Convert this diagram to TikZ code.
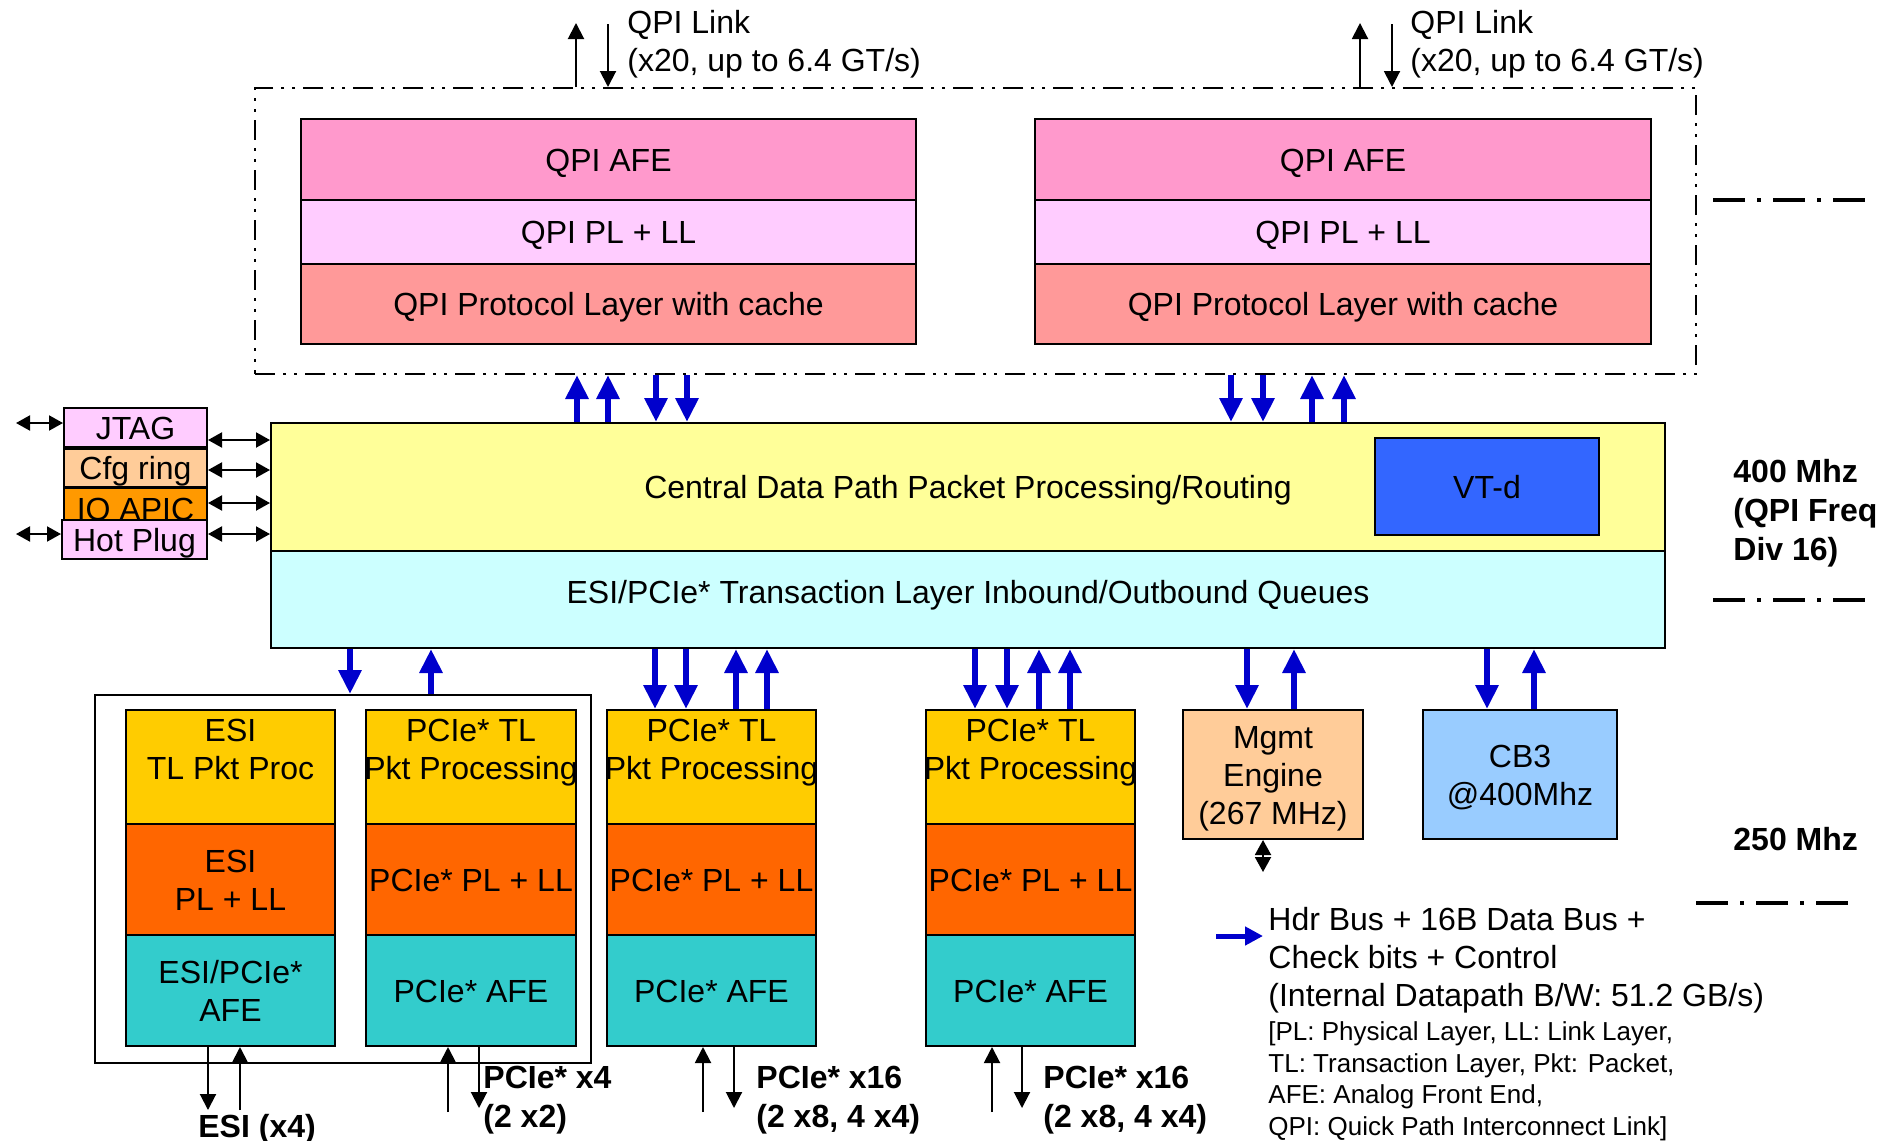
\documentclass[tikz,border=0pt]{standalone}
\usepackage{fontspec}
\setmainfont{Liberation Sans}
\usetikzlibrary{arrows.meta}
\definecolor{qafe}{HTML}{FF99CC}
\definecolor{qpl}{HTML}{FFCCFF}
\definecolor{qprot}{HTML}{FF9999}
\definecolor{cdpy}{HTML}{FFFF99}
\definecolor{cdpc}{HTML}{CCFFFF}
\definecolor{vtdc}{HTML}{3366FF}
\definecolor{cfgc}{HTML}{FFCC99}
\definecolor{ioc}{HTML}{FF9900}
\definecolor{tlc}{HTML}{FFCC00}
\definecolor{plc}{HTML}{FF6600}
\definecolor{afec}{HTML}{33CCCC}
\definecolor{cbc}{HTML}{99CCFF}
\definecolor{busblue}{HTML}{0000CC}
\newcommand\myfont{\fontsize{16}{19}\selectfont}
\newcommand\mybold{\fontsize{16}{19.5}\selectfont\bfseries}
\newcommand\mysmall{\fontsize{13}{15.75}\selectfont}
\newcommand\blk[8][]{\node[blk,#1,fill=#7,minimum width={(#5-#3)*0.5pt},minimum height={(#6-#4)*0.5pt}] (#2) at ({(#3+#5)/2},{(#4+#6)/2}) {#8};}
\begin{document}
\begin{tikzpicture}[x=0.5pt,y=-0.5pt,
  blk/.style={draw,line width=1pt,inner sep=0pt,align=center,font=\myfont,text height=11.5pt,text depth=0pt},
  two/.style={text height=30.5pt,text depth=0pt},
  three/.style={text height=49.5pt,text depth=0pt},
  top2/.style={text height=30.5pt,text depth=18pt},
  bus/.style={draw=busblue,line width=3pt,-{Triangle[length=12pt,width=11pt]}},
  sig/.style={line width=1pt,-{Triangle[length=8pt,width=8pt]}},
  dbl/.style={line width=1pt,{Triangle[length=7pt,width=7.5pt]}-{Triangle[length=7pt,width=7.5pt]}},
  mdbl/.style={line width=1pt,{Triangle[length=7.5pt,width=8pt]}-{Triangle[length=7.5pt,width=8pt]}},
  qdash/.style={draw,line width=1pt,dash pattern=on 10pt off 4pt on 1.5pt off 4pt on 1.5pt off 4pt},
  clk/.style={line width=1.6pt,dash pattern=on 16pt off 6pt on 2pt off 6pt},
  lbl/.style={inner sep=0pt,align=left,font=\myfont,text height=11.5pt,text depth=0pt},
  blbl/.style={lbl,font=\mybold}]
\useasboundingbox (0,0) rectangle (1888,1140);

% QPI region
\node[qdash,inner sep=0pt,minimum width={(1696-255)*0.5pt},minimum height={(374-88)*0.5pt}] (qpibox) at (975.5,231) {};
\blk{qafeA}{301}{119}{916}{200}{qafe}{QPI AFE}
\blk{qplA}{301}{200}{916}{264}{qpl}{QPI PL + LL}
\blk{qprA}{301}{264}{916}{344}{qprot}{QPI Protocol Layer with cache}
\blk{qafeB}{1035}{119}{1651}{200}{qafe}{QPI AFE}
\blk{qplB}{1035}{200}{1651}{264}{qpl}{QPI PL + LL}
\blk{qprB}{1035}{264}{1651}{344}{qprot}{QPI Protocol Layer with cache}

\coordinate (lkAup) at (576,23);
\coordinate (lkAdn) at (608,24);
\coordinate (lkBup) at (1360,23);
\coordinate (lkBdn) at (1392,24);
\draw[sig] (lkAup |- qpibox.north) -- (lkAup);
\draw[sig] (lkAdn) -- (lkAdn |- qpibox.north);
\draw[sig] (lkBup |- qpibox.north) -- (lkBup);
\draw[sig] (lkBdn) -- (lkBdn |- qpibox.north);
\node[lbl,text height=30.5pt,anchor=north west] (lkAtxt) at (627,10.5) {QPI Link\\(x20, up to 6.4 GT/s)};
\node[lbl,text height=30.5pt,anchor=north west] (lkBtxt) at (1410,10.5) {QPI Link\\(x20, up to 6.4 GT/s)};

% central data path
\blk{cdp}{271}{423}{1665}{551}{cdpy}{Central Data Path Packet Processing/Routing}
\blk{esq}{271}{551}{1665}{648}{cdpc}{}
\node[lbl,anchor=center] (esqtxt) at (968,592) {ESI/PCIe* Transaction Layer Inbound/Outbound Queues};
\blk{vtd}{1375}{438}{1599}{535}{vtdc}{VT-d}

\foreach \x in {577,608,1312,1344} \draw[bus] (\x,0 |- cdp.north) -- (\x,0 |- qpibox.south);
\foreach \x in {656,687,1231,1263} \draw[bus] (\x,0 |- qpibox.south) -- (\x,0 |- cdp.north);

% left side blocks
\blk{jtag}{64}{408}{207}{447}{qpl}{JTAG}
\blk{cfg}{64}{449}{207}{487}{cfgc}{Cfg ring}
\blk{ioapic}{64}{488}{207}{520}{ioc}{\raisebox{-2.5pt}{IO APIC}}
\blk{hotplug}{62}{520}{207}{559}{qpl}{Hot Plug}
\coordinate (jtagL) at (16,423);
\coordinate (hpL) at (16,534);
\draw[dbl] (jtagL) -- (jtagL -| jtag.west);
\draw[dbl] (hpL) -- (hpL -| hotplug.west);
\draw[dbl] (jtag.east |- 0,440) -- (cdp.west |- 0,440);
\draw[dbl] (cfg.east |- 0,470) -- (cdp.west |- 0,470);
\draw[dbl] (ioapic.east |- 0,503) -- (cdp.west |- 0,503);
\draw[dbl] (hotplug.east |- 0,534) -- (cdp.west |- 0,534);

% bottom blocks
\node[draw,line width=1pt,fill=white,inner sep=0pt,minimum width={(591-95)*0.5pt},minimum height={(1063-695)*0.5pt}] (esibox) at (343,879) {};
\blk[top2]{esitl}{126}{710}{335}{824}{tlc}{ESI\\TL Pkt Proc}
\blk[two]{esipl}{126}{824}{335}{935}{plc}{ESI\\PL + LL}
\blk[two]{esiafe}{126}{935}{335}{1046}{afec}{ESI/PCIe*\\AFE}

\blk[top2]{xAtl}{366}{710}{576}{824}{tlc}{PCIe* TL\\\makebox[0pt]{Pkt Processing}}
\blk{xApl}{366}{824}{576}{935}{plc}{PCIe* PL + LL}
\blk{xAafe}{366}{935}{576}{1046}{afec}{PCIe* AFE}

\blk[top2]{xBtl}{607}{710}{816}{824}{tlc}{PCIe* TL\\\makebox[0pt]{Pkt Processing}}
\blk{xBpl}{607}{824}{816}{935}{plc}{PCIe* PL + LL}
\blk{xBafe}{607}{935}{816}{1046}{afec}{PCIe* AFE}

\blk[top2]{xCtl}{926}{710}{1135}{824}{tlc}{PCIe* TL\\\makebox[0pt]{Pkt Processing}}
\blk{xCpl}{926}{824}{1135}{935}{plc}{PCIe* PL + LL}
\blk{xCafe}{926}{935}{1135}{1046}{afec}{PCIe* AFE}

\blk[three]{mgmt}{1183}{710}{1363}{839}{cfgc}{Mgmt\\Engine\\(267 MHz)}
\blk[two]{cb3}{1423}{710}{1617}{839}{cbc}{CB3\\@400Mhz}

% bus arrows to bottom blocks
\draw[bus] (350,0 |- esq.south) -- (350,0 |- esibox.north);
\draw[bus] (431,0 |- esibox.north) -- (431,0 |- esq.south);
\foreach \x in {655,686} \draw[bus] (\x,0 |- esq.south) -- (\x,0 |- xBtl.north);
\foreach \x in {736,767} \draw[bus] (\x,0 |- xBtl.north) -- (\x,0 |- esq.south);
\foreach \x in {975,1007} \draw[bus] (\x,0 |- esq.south) -- (\x,0 |- xCtl.north);
\foreach \x in {1039,1070} \draw[bus] (\x,0 |- xCtl.north) -- (\x,0 |- esq.south);
\draw[bus] (1247,0 |- esq.south) -- (1247,0 |- mgmt.north);
\draw[bus] (1294,0 |- mgmt.north) -- (1294,0 |- esq.south);
\draw[bus] (1487,0 |- esq.south) -- (1487,0 |- cb3.north);
\draw[bus] (1534,0 |- cb3.north) -- (1534,0 |- esq.south);

% external signal arrows
\coordinate (esiD) at (208,1110);
\coordinate (esiU) at (240,1110);
\coordinate (xAU) at (448,1112);
\coordinate (xAD) at (479,1108);
\coordinate (xBU) at (703,1112);
\coordinate (xBD) at (734,1108);
\coordinate (xCU) at (992,1112);
\coordinate (xCD) at (1022,1108);
\draw[sig] (esiD |- esiafe.south) -- (esiD);
\draw[sig] (esiU) -- (esiU |- esiafe.south);
\draw[sig] (xAU) -- (xAU |- xAafe.south);
\draw[sig] (xAD |- xAafe.south) -- (xAD);
\draw[sig] (xBU) -- (xBU |- xBafe.south);
\draw[sig] (xBD |- xBafe.south) -- (xBD);
\draw[sig] (xCU) -- (xCU |- xCafe.south);
\draw[sig] (xCD |- xCafe.south) -- (xCD);

\node[blbl,anchor=west] (esilbl) at (198,1126) {ESI (x4)};
\node[blbl,text height=31pt,anchor=north west] (xAlbl) at (483,1065.5) {PCIe* x4\\(2 x2)};
\node[blbl,text height=31pt,anchor=north west] (xBlbl) at (756,1065.5) {PCIe* x16\\(2 x8, 4 x4)};
\node[blbl,text height=31pt,anchor=north west] (xClbl) at (1043,1065.5) {PCIe* x16\\(2 x8, 4 x4)};

\coordinate (mgD) at (1263,872);
\draw[mdbl] (mgD |- mgmt.south) -- (mgD);

% clock domains
\node[blbl,text height=50.5pt,anchor=north west] (f400) at (1733,459.5) {400 Mhz\\(QPI Freq\\Div 16)};
\node[blbl,anchor=west] (f250) at (1733,839) {250 Mhz};
\draw[clk] (1713,200) -- (1865,200);
\draw[clk] (1713,600) -- (1865,600);
\draw[clk] (1696,903) -- (1848,903);

% legend
\node[lbl,text height=49.5pt,anchor=north west] (leg1) at (1268,907.5) {Hdr Bus + 16B Data Bus +\\Check bits + Control\\(Internal Datapath B/W: 51.2 GB/s)};
\node[lbl,font=\mysmall,text height=56.55pt,anchor=north west] (leg2) at (1268,1021.7) {[PL: Physical Layer, LL: Link Layer,\\TL: Transaction Layer, Pkt: Packet,\\AFE: Analog Front End,\\QPI: Quick Path Interconnect Link]};
\coordinate (legA) at (1216,936);
\draw[bus,line width=2.5pt,-{Triangle[length=9pt,width=9pt]},shorten >=2.5pt] (legA) -- (legA -| leg1.west);
\end{tikzpicture}
\end{document}
